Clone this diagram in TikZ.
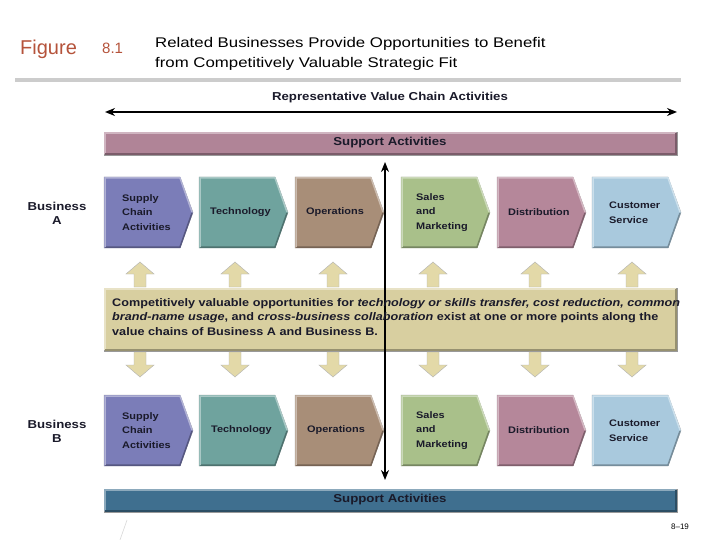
\documentclass[tikz,border=0pt]{standalone}
\usepackage{fontspec}
\setmainfont{Liberation Sans}
\newfontfamily\widefont[FakeStretch=1.15]{Liberation Sans}
\newfontfamily\titlefont[FakeStretch=1.2]{Liberation Sans}
\usetikzlibrary{arrows.meta}
\definecolor{cSup}{HTML}{7B7DB8}
\definecolor{cTec}{HTML}{6FA39E}
\definecolor{cOps}{HTML}{A88E78}
\definecolor{cSal}{HTML}{A9C08A}
\definecolor{cDis}{HTML}{B5879A}
\definecolor{cCus}{HTML}{A9C9DD}
\definecolor{cSupTop}{HTML}{B08497}
\definecolor{cSupBot}{HTML}{3F6F8F}
\definecolor{cTan}{HTML}{D8CFA0}
\definecolor{cArr}{HTML}{E3D9A8}
\definecolor{cFig}{HTML}{B5533B}
\definecolor{cTxt}{HTML}{1A1A2A}
\tikzset{
  lbl/.style={font=\widefont\bfseries\fontsize{9.5}{14.5}\selectfont, text=cTxt},
  bar/.style={draw=black!40, line width=0.8pt},
  biglbl/.style={font=\widefont\bfseries\fontsize{11.5}{13}\selectfont, align=center, text=cTxt},
}
\newcommand{\chevron}[6]{%
  \fill[#4, draw=black!35] (#2,#3) -- ++(76,0) -- ++(13,35.5) -- ++(-13,35.5) -- ++(-76,0) -- cycle;
  \draw[#4!70!black, line width=1.5pt] (#2+1,#3+70) -- ++(75,0) -- ++(12,-34);
  \draw[#4!60!white, line width=1.5pt] (#2+1,#3+70) -- ++(0,-69) -- ++(75,0) -- ++(12,34);
  \node[lbl, anchor=west, align=left, inner sep=0] (#1) at (#2+#6,#3+35.5) {#5};
}
\newcommand{\uparr}[3]{%
  \fill[cArr, draw=black!30] (#1,#2) -- (#1+14,#2+12) -- (#1+6,#2+12) -- (#1+6,#3) -- (#1-6,#3) -- (#1-6,#2+12) -- (#1-14,#2+12) -- cycle;
}
\newcommand{\dnarr}[3]{%
  \fill[cArr, draw=black!30] (#1,#3) -- (#1+14,#3-12) -- (#1+6,#3-12) -- (#1+6,#2) -- (#1-6,#2) -- (#1-6,#3-12) -- (#1-14,#3-12) -- cycle;
}
\begin{document}
\begin{tikzpicture}[x=1pt,y=-1pt]
\useasboundingbox[fill=white] (0,0) rectangle (720,540);
\node[anchor=base west, text=cFig, font=\fontsize{20}{22}\selectfont, inner sep=0] (fig) at (20,55) {Figure};
\node[anchor=base west, text=cFig, font=\fontsize{15}{17}\selectfont, inner sep=0] (num) at (102,54) {8.1};
\node[anchor=north west, align=left, font=\titlefont\fontsize{14}{20}\selectfont, inner sep=0] (title) at (155,37) {Related Businesses Provide Opportunities to Benefit\\from Competitively Valuable Strategic Fit};
\draw[black!20, line width=4pt] (15,80) -- (681,80);
\node[biglbl] (rep) at (390,98) {Representative Value Chain Activities};
\coordinate (rl) at (105,112); \coordinate (rr) at (677,112);
\draw[line width=2pt, {Stealth[length=10pt,width=8pt]}-{Stealth[length=10pt,width=8pt]}] (rl) -- (rr);
\fill[cSupTop, bar] (104,132) rectangle (677,155);
\draw[cSupTop!60!white, line width=1.5pt] (105,154) -- (105,133) -- (676,133);
\draw[cSupTop!70!black, line width=1.5pt] (105,154) -- (676,154) -- (676,133);
\node[biglbl] (supA) at (390,143) {Support Activities};
\fill[cSupBot, bar] (104,489) rectangle (677,512);
\draw[cSupBot!60!white, line width=1.5pt] (105,511) -- (105,490) -- (676,490);
\draw[cSupBot!70!black, line width=1.5pt] (105,511) -- (676,511) -- (676,490);
\node[biglbl] (supB) at (390,500) {Support Activities};
\fill[cTan, bar] (104,288) rectangle (677,351);
\draw[cTan!60!white, line width=1.5pt] (105,350) -- (105,289) -- (676,289);
\draw[cTan!70!black, line width=1.5pt] (105,350) -- (676,350) -- (676,289);
\node[biglbl, font=\widefont\bfseries\fontsize{11.5}{14}\selectfont] (bA) at (57,213) {Business\\A};
\node[biglbl, font=\widefont\bfseries\fontsize{11.5}{14}\selectfont] (bB) at (57,431) {Business\\B};
\chevron{a1}{104}{177}{cSup}{Supply\\Chain\\Activities}{18}
\chevron{a2}{199}{177}{cTec}{Technology}{11}
\chevron{a3}{295}{177}{cOps}{Operations}{11}
\chevron{a4}{401}{177}{cSal}{Sales\\and\\Marketing}{15}
\chevron{a5}{497}{177}{cDis}{Distribution}{11}
\chevron{a6}{592}{177}{cCus}{Customer\\Service}{17}
\chevron{b1}{104}{395}{cSup}{Supply\\Chain\\Activities}{18}
\chevron{b2}{199}{395}{cTec}{Technology}{12}
\chevron{b3}{295}{395}{cOps}{Operations}{12}
\chevron{b4}{401}{395}{cSal}{Sales\\and\\Marketing}{15}
\chevron{b5}{497}{395}{cDis}{Distribution}{11}
\chevron{b6}{592}{395}{cCus}{Customer\\Service}{17}
\foreach \x in {140,235,333,433,535,632}{\uparr{\x}{262}{287}\dnarr{\x}{352}{377}}
\coordinate (vt) at (385,162); \coordinate (vb) at (385,480);
\draw[line width=2pt, {Stealth[length=10pt,width=8pt]}-{Stealth[length=10pt,width=8pt]}] (vb) -- (vt);
\node[anchor=north west, align=left, inner sep=0, font=\widefont\bfseries\fontsize{11}{14.5}\selectfont, text=cTxt] (mid) at (112,298) {Competitively valuable opportunities for \textit{technology or skills transfer, cost reduction, common}\\\textit{brand-name usage}, and \textit{cross-business collaboration} exist at one or more points along the\\value chains of Business A and Business B.};
\draw[black!15, line width=0.6pt] (120,540) -- (127,520);
\node[font=\fontsize{8}{9}\selectfont] (pg) at (680,527) {8–19};
\end{tikzpicture}
\end{document}
